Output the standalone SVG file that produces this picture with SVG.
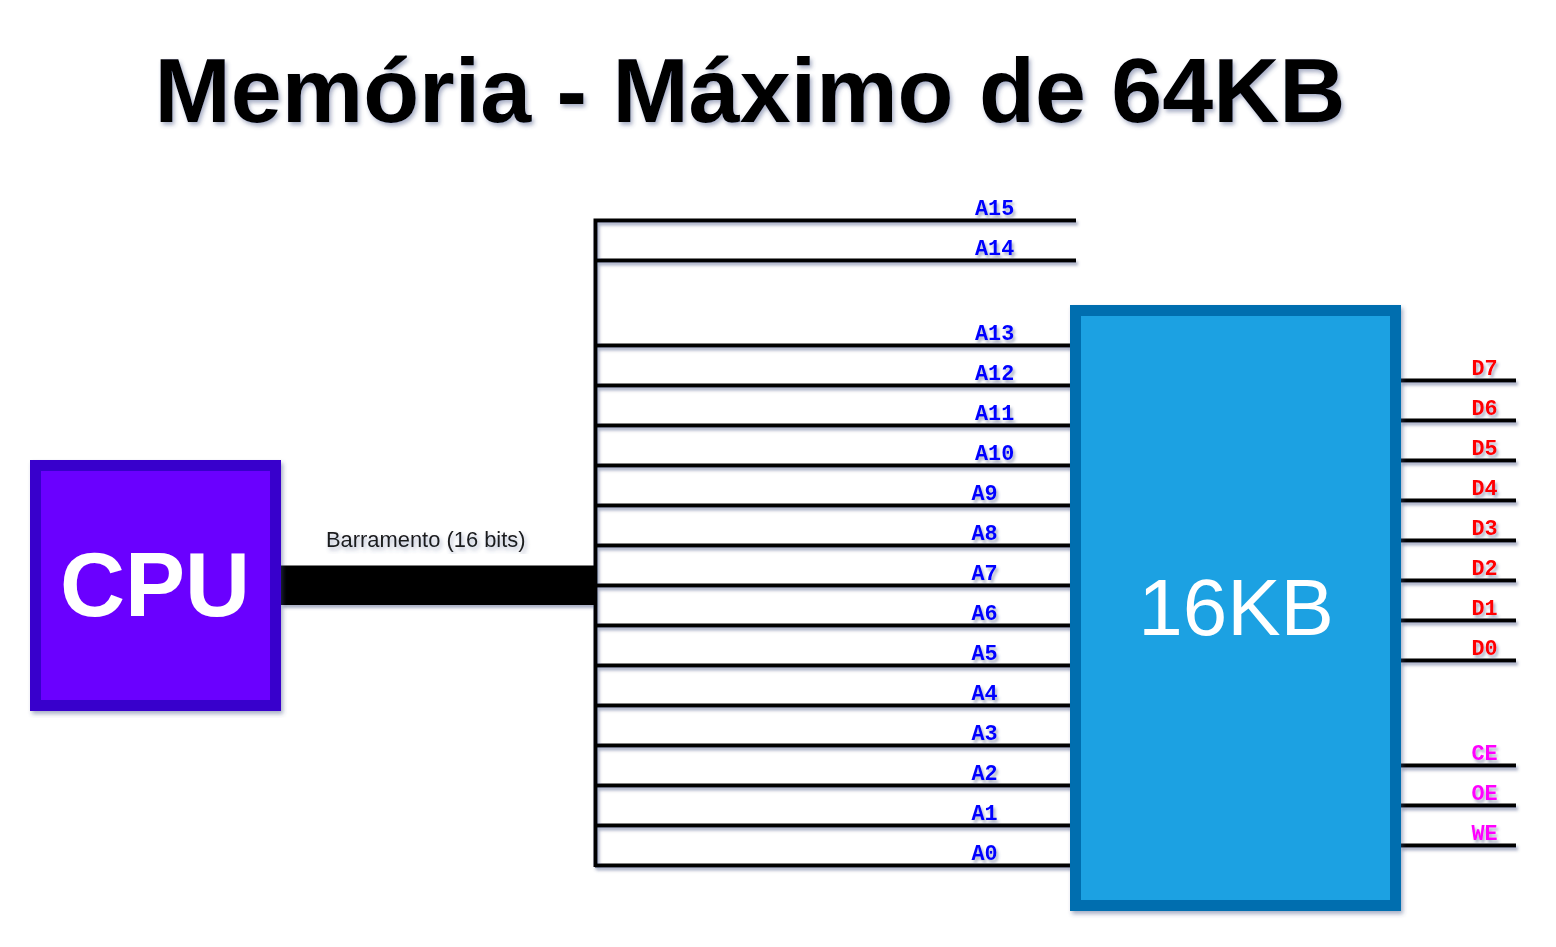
<svg xmlns="http://www.w3.org/2000/svg" width="1556" height="947" viewBox="0 0 1556 947">
<style>
text{font-family:"Liberation Sans",Arial,sans-serif}
.sh{filter:url(#s)}
.w{fill:none;stroke:#000;stroke-width:4;stroke-linecap:butt}
.l text{font-family:"Liberation Mono","Courier New",monospace;font-size:21.8px;font-weight:bold}
.a{fill:#0000ff}.d{fill:#ff0000}.c{fill:#ff00ff}
</style>
<defs><filter id="s" x="-5%" y="-5%" width="110%" height="110%" filterUnits="objectBoundingBox"><feDropShadow dx="2" dy="3" stdDeviation="2" flood-color="#405080" flood-opacity="0.45"/></filter>
<filter id="sw" filterUnits="userSpaceOnUse" x="0" y="0" width="1556" height="947"><feDropShadow dx="2" dy="3" stdDeviation="1.6" flood-color="#405080" flood-opacity="0.45"/></filter></defs>
<rect width="1556" height="947" fill="#fff"/>
<g id="title" class="sh"><text x="750" y="122" text-anchor="middle" font-size="91.600" font-weight="bold" fill="#000">Memória - Máximo de 64KB</text></g>
<g id="connectors" filter="url(#sw)">
<rect x="281" y="565.500" width="315" height="39.500" fill="#000"/>
<path class="w" d="M595.500 218.500V867M595 220.500H1076M595 260.500H1076M595 345.500H1071M595 385.500H1071M595 425.500H1071M595 465.500H1071M595 505.500H1071M595 545.500H1071M595 585.500H1071M595 625.500H1071M595 665.500H1071M595 705.500H1071M595 745.500H1071M595 785.500H1071M595 825.500H1071M595 865.500H1071"/>
<path class="w" d="M1400 380.500H1516M1400 420.500H1516M1400 460.500H1516M1400 500.500H1516M1400 540.500H1516M1400 580.500H1516M1400 620.500H1516M1400 660.500H1516M1400 765.500H1516M1400 805.500H1516M1400 845.500H1516"/>
</g>
<g id="cpu" class="sh"><rect x="35.500" y="465.500" width="240" height="240" fill="#6a00ff" stroke="#3700cc" stroke-width="11"/><text x="155" y="616" text-anchor="middle" font-size="90" font-weight="bold" fill="#fff">CPU</text></g>
<g id="mem16kb" class="sh"><rect x="1075.500" y="310.500" width="320" height="595" fill="#1ba1e2" stroke="#006eaf" stroke-width="11"/><text x="1236" y="635" text-anchor="middle" font-size="80" fill="#fff">16KB</text></g>
<g id="bus-label" class="sh"><text x="326" y="547" font-size="21.900" fill="#1a1a1a">Barramento (16 bits)</text></g>
<g id="address-labels" class="l a" filter="url(#sw)">
<text x="975" y="215">A15</text><text x="975" y="255">A14</text><text x="975" y="340">A13</text><text x="975" y="380">A12</text><text x="975" y="420">A11</text><text x="975" y="460">A10</text>
<text x="971.500" y="500">A9</text><text x="971.500" y="540">A8</text><text x="971.500" y="580">A7</text><text x="971.500" y="620">A6</text><text x="971.500" y="660">A5</text><text x="971.500" y="700">A4</text><text x="971.500" y="740">A3</text><text x="971.500" y="780">A2</text><text x="971.500" y="820">A1</text><text x="971.500" y="860">A0</text>
</g>
<g id="data-labels" class="l d" filter="url(#sw)">
<text x="1471.500" y="375">D7</text><text x="1471.500" y="415">D6</text><text x="1471.500" y="455">D5</text><text x="1471.500" y="495">D4</text><text x="1471.500" y="535">D3</text><text x="1471.500" y="575">D2</text><text x="1471.500" y="615">D1</text><text x="1471.500" y="655">D0</text>
</g>
<g id="control-labels" class="l c" filter="url(#sw)">
<text x="1471.500" y="760">CE</text><text x="1471.500" y="800">OE</text><text x="1471.500" y="840">WE</text>
</g>
</svg>
